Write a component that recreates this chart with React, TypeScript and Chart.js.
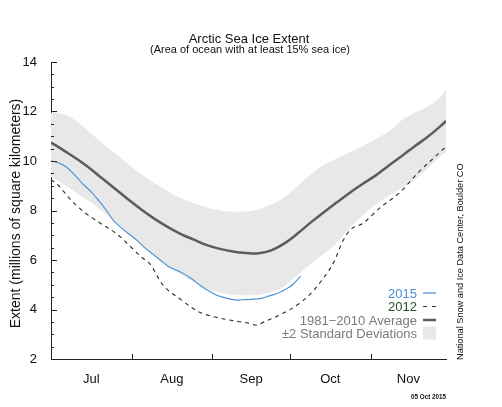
import React, { useEffect, useRef } from "react";
import { Chart, registerables } from "chart.js";

Chart.register(...registerables);

// ---- data (days since 1 July) ----
const MONTHS = ["Jul", "Aug", "Sep", "Oct", "Nov"];
const MONTH_CENTERS = [15.5, 46.5, 77, 107.5, 137.5];
const MONTH_STARTS = [31, 62, 92, 123];
const X_MAX = 152;
const Y_MIN = 2;
const Y_MAX = 14;
const Y_STEP = 2;
const Y_MINOR_STEP = 0.5;

const CLIM_DAYS = [0, 5, 10, 15, 20, 25, 30, 35, 40, 45, 50, 55, 60, 65, 70, 75, 80, 85, 90, 95, 100, 105, 110, 115, 120, 125, 130, 135, 140, 145, 150, 152];
const AVG_1981_2010 = [10.75, 10.42, 10.08, 9.7, 9.27, 8.85, 8.42, 8.02, 7.65, 7.33, 7.05, 6.82, 6.6, 6.45, 6.34, 6.28, 6.27, 6.4, 6.68, 7.08, 7.52, 7.93, 8.33, 8.72, 9.08, 9.42, 9.82, 10.2, 10.6, 10.98, 11.42, 11.62];
const UPPER_2SD = [11.95, 11.88, 11.6, 11.15, 10.7, 10.28, 9.85, 9.45, 9.1, 8.78, 8.5, 8.3, 8.12, 8.0, 7.95, 7.96, 8.05, 8.25, 8.55, 9.0, 9.45, 9.85, 10.1, 10.35, 10.6, 10.9, 11.2, 11.65, 11.95, 12.2, 12.6, 12.9];
const LOWER_2SD = [9.35, 9.05, 8.7, 8.35, 7.95, 7.5, 7.05, 6.6, 6.15, 5.75, 5.4, 5.1, 4.85, 4.68, 4.6, 4.58, 4.6, 4.72, 4.95, 5.4, 5.85, 6.25, 6.7, 7.3, 7.8, 8.25, 8.6, 8.9, 9.25, 9.7, 10.2, 10.35];

const DAYS_2015 = [0, 3, 6, 9, 12, 15, 18, 21, 24, 27, 30, 33, 36, 39, 42, 45, 48, 51, 54, 57, 60, 63, 66, 69, 72, 75, 78, 81, 84, 87, 90, 93, 96];
const EXTENT_2015 = [10.0, 9.92, 9.75, 9.45, 9.1, 8.8, 8.45, 8.05, 7.6, 7.3, 7.05, 6.8, 6.5, 6.25, 6.0, 5.75, 5.6, 5.45, 5.25, 5.0, 4.8, 4.62, 4.5, 4.42, 4.38, 4.4, 4.42, 4.45, 4.55, 4.65, 4.8, 5.0, 5.35];

const DAYS_2012 = [0, 3, 7, 12, 18, 25, 30, 35, 38, 43, 50, 57, 63, 70, 76, 79, 82, 88, 95, 100, 104, 109, 112, 115, 120, 127, 134, 141, 146, 152];
const EXTENT_2012 = [9.25, 9.0, 8.5, 8.0, 7.55, 7.08, 6.6, 6.1, 5.85, 5.0, 4.4, 3.9, 3.7, 3.55, 3.45, 3.37, 3.5, 3.78, 4.2, 4.65, 5.15, 5.95, 6.7, 7.2, 7.48, 8.15, 8.7, 9.5, 10.0, 10.58];

const TITLE = "Arctic Sea Ice Extent";
const SUBTITLE = "(Area of ocean with at least 15% sea ice)";
const Y_TITLE = "Extent (millions of square kilometers)";
const CREDIT = "National Snow and Ice Data Center, Boulder CO";
const DATE_TEXT = "05 Oct 2015";
const LEGEND_LABELS = ["2015", "2012", "1981\u22122010 Average", "\u00b12 Standard Deviations"];

// ---- styles ----
const FONT = '"Liberation Sans", Arial, Helvetica, sans-serif';
const AXIS_COLOR = "#222222";
const BLUE = "#4a8fd3";
const GREEN_TEXT = "#24502b";
const DASH_COLOR = "#1f3325";
const AVG_COLOR = "#5c5c5c";
const AVG_TEXT = "#7a7a7a";
const BAND_COLOR = "#e8e8e8";

const pts = (xs: number[], ys: number[]) => xs.map((x, i) => ({ x, y: ys[i] }));

const annotate = {
  id: "annotate",
  afterDraw(chart: any) {
    const { ctx } = chart;
    const xs = chart.scales.x;
    const ys = chart.scales.y;
    ctx.save();
    // inward axis ticks
    ctx.strokeStyle = AXIS_COLOR;
    ctx.lineWidth = 1;
    const left = xs.left;
    const bottom = ys.bottom;
    for (let v = Y_MIN; v <= Y_MAX + 1e-9; v += Y_MINOR_STEP) {
      const py = Math.round(ys.getPixelForValue(v)) + 0.5;
      const len = Math.abs(v % Y_STEP) < 1e-9 ? 6 : 3;
      ctx.beginPath();
      ctx.moveTo(left, py);
      ctx.lineTo(left + len, py);
      ctx.stroke();
    }
    for (const d of MONTH_STARTS) {
      const px = Math.round(xs.getPixelForValue(d)) + 0.5;
      ctx.beginPath();
      ctx.moveTo(px, bottom);
      ctx.lineTo(px, bottom - 5);
      ctx.stroke();
    }

    // titles
    ctx.fillStyle = "#111";
    ctx.textAlign = "center";
    ctx.textBaseline = "alphabetic";
    ctx.font = `13px ${FONT}`;
    ctx.fillText(TITLE, 249, 43);
    ctx.font = `11px ${FONT}`;
    ctx.fillText(SUBTITLE, 250, 53);

    // y title
    ctx.save();
    ctx.translate(20, 213.5);
    ctx.rotate(-Math.PI / 2);
    ctx.font = `14px ${FONT}`;
    ctx.textAlign = "center";
    ctx.fillText(Y_TITLE, 0, 0);
    ctx.restore();

    // credit
    ctx.save();
    ctx.translate(463, 360);
    ctx.rotate(-Math.PI / 2);
    ctx.font = `9.2px ${FONT}`;
    ctx.textAlign = "left";
    ctx.fillText(CREDIT, 0, 0);
    ctx.restore();

    // date
    ctx.font = `bold 6.3px ${FONT}`;
    ctx.textAlign = "right";
    ctx.fillText(DATE_TEXT, 446, 399);

    // legend
    const lx = 417;
    const rows = [293, 306.5, 320, 333];
    const colors = [BLUE, GREEN_TEXT, AVG_TEXT, AVG_TEXT];
    ctx.font = `13px ${FONT}`;
    ctx.textAlign = "right";
    ctx.textBaseline = "middle";
    LEGEND_LABELS.forEach((t, i) => {
      ctx.fillStyle = colors[i];
      ctx.fillText(t, lx, rows[i] + 1);
    });
    const sx0 = 423;
    const sx1 = 436;
    ctx.strokeStyle = BLUE;
    ctx.lineWidth = 1.2;
    ctx.beginPath();
    ctx.moveTo(sx0, rows[0]);
    ctx.lineTo(sx1, rows[0]);
    ctx.stroke();
    ctx.strokeStyle = DASH_COLOR;
    ctx.setLineDash([4, 5]);
    ctx.beginPath();
    ctx.moveTo(sx0, rows[1]);
    ctx.lineTo(sx1, rows[1]);
    ctx.stroke();
    ctx.setLineDash([]);
    ctx.strokeStyle = AVG_COLOR;
    ctx.lineWidth = 2.5;
    ctx.beginPath();
    ctx.moveTo(sx0, rows[2]);
    ctx.lineTo(sx1, rows[2]);
    ctx.stroke();
    ctx.fillStyle = BAND_COLOR;
    ctx.fillRect(sx0, rows[3] - 6.5, sx1 - sx0, 13);
    ctx.restore();
  },
};

export default function App() {
  const ref = useRef<HTMLCanvasElement | null>(null);
  useEffect(() => {
    if (!ref.current) return;
    Chart.defaults.font.family = FONT;
    const chart = new Chart(ref.current, {
      type: "line",
      data: {
        datasets: [
          {
            label: "upper",
            data: pts(CLIM_DAYS, UPPER_2SD),
            borderWidth: 0,
            pointRadius: 0,
            backgroundColor: BAND_COLOR,
            fill: "+1",
            tension: 0.4,
            order: 10,
          },
          {
            label: "lower",
            data: pts(CLIM_DAYS, LOWER_2SD),
            borderWidth: 0,
            pointRadius: 0,
            fill: false,
            tension: 0.4,
            order: 10,
          },
          {
            label: "1981-2010 Average",
            data: pts(CLIM_DAYS, AVG_1981_2010),
            borderColor: AVG_COLOR,
            borderWidth: 2.5,
            pointRadius: 0,
            fill: false,
            tension: 0.4,
            order: 3,
          },
          {
            label: "2012",
            data: pts(DAYS_2012, EXTENT_2012),
            borderColor: DASH_COLOR,
            borderWidth: 1.1,
            borderDash: [4, 4],
            pointRadius: 0,
            fill: false,
            cubicInterpolationMode: "monotone",
            order: 2,
          },
          {
            label: "2015",
            data: pts(DAYS_2015, EXTENT_2015),
            borderColor: BLUE,
            borderWidth: 1.1,
            pointRadius: 0,
            fill: false,
            cubicInterpolationMode: "monotone",
            order: 1,
          },
        ],
      },
      options: {
        animation: false,
        responsive: false,
        devicePixelRatio: 1,
        layout: { padding: { left: 0, top: 62, right: 56, bottom: 0 } },
        plugins: { legend: { display: false }, tooltip: { enabled: false }, title: { display: false } },
        scales: {
          x: {
            type: "linear",
            min: 0,
            max: X_MAX,
            position: "bottom",
            grid: { display: false },
            border: { display: true, color: AXIS_COLOR, width: 1 },
            afterBuildTicks: (s: any) => {
              s.ticks = MONTH_CENTERS.map((v) => ({ value: v }));
            },
            ticks: {
              callback: (_v: any, i: number) => MONTHS[i],
              font: { size: 13, family: FONT },
              color: "#111",
              padding: 5,
              maxRotation: 0,
              autoSkip: false,
            },
            afterFit: (s: any) => {
              s.height = 48;
            },
          },
          y: {
            type: "linear",
            min: Y_MIN,
            max: Y_MAX,
            grid: { display: false },
            border: { display: true, color: AXIS_COLOR, width: 1 },
            ticks: {
              stepSize: Y_STEP,
              font: { size: 13, family: FONT },
              color: "#111",
              padding: 6,
            },
            afterFit: (s: any) => {
              s.width = 51;
            },
          },
        },
      },
      plugins: [annotate],
    } as any);
    return () => chart.destroy();
  }, []);
  return (
    <div style={{ position: "fixed", left: 0, top: 0, width: 502, height: 407, background: "#fff" }}>
      <canvas ref={ref} width={502} height={407} style={{ display: "block" }} />
    </div>
  );
}
